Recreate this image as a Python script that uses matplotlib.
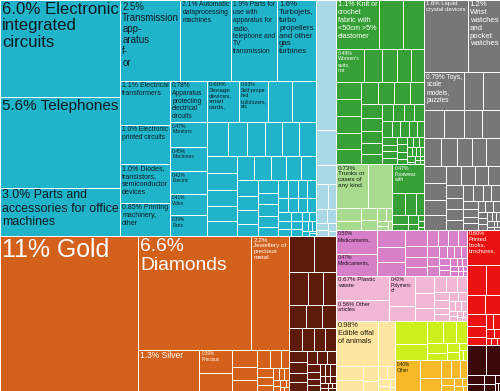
import matplotlib
matplotlib.use("Agg")
import matplotlib.pyplot as plt
from matplotlib.patches import Rectangle

plt.rcParams['font.family'] = ['Liberation Sans Narrow', 'Liberation Sans', 'DejaVu Sans']

# export shares (%) per product, grouped by community
elec_values = [6.0, 5.6, 3.0, 2.5, 2.1, 1.9, 1.6, 1.14, 1.0, 1.0, 0.86, 0.78, 0.69, 0.63,
               0.52, 0.50, 0.47, 0.45, 0.42, 0.41, 0.39, 0.36, 0.33, 0.31, 0.30, 0.29,
               0.28, 0.27, 0.26, 0.25, 0.24, 0.23, 0.22, 0.21, 0.20, 0.19, 0.18, 0.17,
               0.16, 0.15, 0.14, 0.13, 0.12, 0.12, 0.11, 0.10, 0.09, 0.09, 0.08, 0.08,
               0.07, 0.07, 0.07, 0.06, 0.06, 0.05, 0.05, 0.05, 0.04, 0.04, 0.03, 0.03,
               0.03, 0.02, 0.02, 0.02, 0.01, 0.01]
elec_labels = ["6.0% Electronic\nintegrated\ncircuits",
               "5.6% Telephones",
               "3.0% Parts and\naccessories for office\nmachines",
               "2.5%\nTransmission\napp-\naratus\nf-\nor",
               "2.1% Automatic\ndataprocessing\nmachines",
               "1.9% Parts for\nuse with\napparatus for\nradio,\ntelephone and\nTV\ntransmission",
               "1.6%\nTurbojets,\nturbo\npropellers\nand other\ngas\nturbines",
               "1.1% Electrical\ntransformers",
               "1.0% Electronic\nprinted circuits",
               "1.0% Diodes,\ntransistors,\nsemiconductor\ndevices",
               "0.85% Printing\nmachinery,\nother",
               "0.78%\nApparatus\nprotecting\nelectrical\ncircuits",
               "0.69%\nStorage\ndevices,\nsmart\ncards,",
               "0.63%\nSelf-prope\nlled\nbulldozers,\netc",
               "", "",
               "0.47%\nMonitors", "0.45%\nMachines", "0.42%\nElectric",
               "0.41%\nVideo", "0.39%\nParts"]

mach_values = [1.33, 0.36, 0.20, 0.15, 0.10, 0.08, 0.06, 0.05, 0.04, 0.03, 0.02]
mach_labels = []

precious_values = [11.0, 6.6, 2.2, 1.3, 0.39, 0.30, 0.22, 0.18, 0.14, 0.12, 0.10, 0.08,
                   0.07, 0.06, 0.05, 0.04, 0.03, 0.03, 0.02, 0.02, 0.02, 0.01, 0.01, 0.01]
precious_labels = ["11% Gold", "6.6%\nDiamonds", "2.2%\nJewellery of\nprecious\nmetal",
                   "1.3% Silver", "0.39%\nPrecious"]

metals_values = [0.45, 0.40, 0.33, 0.26, 0.22, 0.20, 0.18, 0.16, 0.15, 0.14, 0.13, 0.12,
                 0.11, 0.10, 0.09, 0.08, 0.07, 0.07, 0.06, 0.05, 0.05, 0.04, 0.04, 0.03,
                 0.03, 0.03, 0.02, 0.02, 0.02, 0.02, 0.01, 0.01, 0.01, 0.01]
metals_labels = []

textiles_values = [1.1, 0.60, 0.55, 0.49, 0.30, 0.25, 0.24, 0.23, 0.22, 0.22, 0.22, 0.21,
                   0.20, 0.19, 0.18, 0.17, 0.16, 0.15, 0.14, 0.13, 0.12, 0.11, 0.10, 0.10,
                   0.09, 0.09, 0.08, 0.07, 0.07, 0.07, 0.06, 0.06, 0.05, 0.05, 0.05, 0.04,
                   0.04, 0.04, 0.03, 0.03, 0.03, 0.03, 0.02, 0.02, 0.02, 0.02, 0.02, 0.01,
                   0.01, 0.01, 0.01, 0.01]
textiles_labels = ["1.1% Knit or\ncrochet\nfabric with\n<50cm >5%\nelastomer", "", "",
                   "0.49%\nWomen's\nsuits,\nnot"]

leather_values = [0.73, 0.55, 0.17, 0.12, 0.10, 0.08, 0.06, 0.04, 0.03, 0.02, 0.02]
leather_labels = ["0.73%\nTrunks or\ncases of\nany kind"]

footwear_values = [0.47, 0.15, 0.12, 0.10, 0.07, 0.05, 0.04, 0.03, 0.02, 0.02, 0.01]
footwear_labels = ["0.47%\nFootwear,\nwith"]

misc_values = [1.6, 1.2, 0.79, 0.36, 0.34, 0.28, 0.27, 0.26, 0.25, 0.24, 0.23, 0.22, 0.21,
               0.20, 0.19, 0.18, 0.17, 0.16, 0.15, 0.14, 0.13, 0.12, 0.11, 0.10, 0.10,
               0.09, 0.08, 0.08, 0.07, 0.07, 0.06, 0.06, 0.05, 0.05, 0.04, 0.04, 0.04,
               0.03, 0.03, 0.03, 0.02, 0.02, 0.02, 0.02, 0.01, 0.01, 0.01, 0.01]
misc_labels = ["1.6% Liquid\ncrystal devices", "1.2%\nWrist\nwatches\nand\npocket\nwatches",
               "0.79% Toys,\nscale\nmodels,\npuzzles"]

chem_values = [0.50, 0.47, 0.24, 0.22, 0.20, 0.18, 0.12, 0.11, 0.10, 0.09, 0.08, 0.08,
               0.07, 0.07, 0.06, 0.06, 0.05, 0.05, 0.04, 0.04, 0.04, 0.03, 0.03, 0.03,
               0.02, 0.02, 0.02, 0.02, 0.01, 0.01, 0.01, 0.01]
chem_labels = ["0.50%\nMedicaments,", "0.47%\nMedicaments,"]

plastics_values = [0.67, 0.56, 0.42, 0.20, 0.17, 0.14, 0.12, 0.10, 0.09, 0.08, 0.07, 0.06,
                   0.05, 0.05, 0.04, 0.04, 0.03, 0.03, 0.03, 0.02, 0.02, 0.02, 0.01, 0.01,
                   0.01]
plastics_labels = ["0.67% Plastic\nwaste", "0.56% Other\narticles", "0.42%\nPolymers\nof"]

animal_values = [0.98, 0.40, 0.20, 0.15, 0.12, 0.08, 0.06, 0.05, 0.04, 0.03, 0.02, 0.01]
animal_labels = ["0.98%\nEdible offal\nof animals"]

veg_values = [0.38, 0.28, 0.18, 0.15, 0.12, 0.10, 0.08, 0.06, 0.05, 0.03, 0.02, 0.02]
veg_labels = []

food_values = [0.40, 0.18, 0.14, 0.10, 0.08, 0.06, 0.05, 0.04, 0.03, 0.02, 0.02, 0.01]
food_labels = ["0.40%\nOther"]

paper_values = [0.60, 0.30, 0.22, 0.18, 0.14, 0.12, 0.10, 0.08, 0.06, 0.05, 0.04, 0.03,
                0.02, 0.02, 0.01]
paper_labels = ["0.60%\nPrinted\nbooks,\nbrochures,"]

stone_values = [0.30, 0.22, 0.08, 0.06, 0.05, 0.04, 0.02, 0.01, 0.01]
stone_labels = []

# community -> (values, labels, fill, text colour)
groups = {
    'elec': (elec_values, elec_labels, '#20B4CB', '#0d1a1f'),
    'mach': (mach_values, mach_labels, '#A9D9E4', '#0d1a1f'),
    'precious': (precious_values, precious_labels, '#D3601B', 'white'),
    'metals': (metals_values, metals_labels, '#5E1B0C', 'white'),
    'textiles': (textiles_values, textiles_labels, '#36A036', 'white'),
    'leather': (leather_values, leather_labels, '#A8DB8E', '#102010'),
    'footwear': (footwear_values, footwear_labels, '#36A036', 'white'),
    'misc': (misc_values, misc_labels, '#777777', 'white'),
    'chem': (chem_values, chem_labels, '#D780C9', '#201020'),
    'plastics': (plastics_values, plastics_labels, '#F3B7D6', '#201020'),
    'animal': (animal_values, animal_labels, '#FFE6A0', '#202010'),
    'veg': (veg_values, veg_labels, '#CDF01C', '#202010'),
    'food': (food_values, food_labels, '#F6B927', '#202010'),
    'paper': (paper_values, paper_labels, '#EC1212', 'white'),
    'stone': (stone_values, stone_labels, '#3B0909', 'white'),
}

# how the communities are arranged (h = side by side, v = stacked)
LAYOUT = ('h', [
    ('v', [('h', ['elec', 'mach']), ('h', ['precious', 'metals'])]),
    ('v', [
        ('h', [('v', ['textiles', ('h', ['leather', 'footwear'])]), 'misc']),
        ('h', [('v', ['chem', 'plastics', ('h', ['animal', ('v', ['veg', 'food'])])]),
               ('v', ['paper', 'stone'])]),
    ]),
])

W, H = 500, 391
PHI = 0.5 * (1 + 5 ** 0.5)


def worst(row, u):
    s = sum(row)
    if s == 0:
        return float('inf')
    s2, u2 = s * s, u * u
    return max(u2 * max(row) * PHI / s2, s2 / (u2 * min(row) * PHI))


def position(row, u, rect, flush, out):
    x, y, w, h = rect
    v = sum(row) / u if u else 0
    if u == w:
        if flush or v > h:
            v = h
        for a in row:
            dw = a / v if v else 0
            out.append((x, y, dw, v))
            x += dw
        rect[1] += v
        rect[3] -= v
    else:
        if flush or v > w:
            v = w
        for a in row:
            dh = a / v if v else 0
            out.append((x, y, v, dh))
            y += dh
        rect[0] += v
        rect[2] -= v


def squarify(values, x, y, w, h):
    k = w * h / sum(values)
    areas = [v * k for v in values]
    rect = [x, y, w, h]
    out, row = [], []
    best = float('inf')
    u = min(w, h)
    i = 0
    while i < len(areas):
        row.append(areas[i])
        score = worst(row, u)
        if score <= best:
            best = score
            i += 1
        else:
            row.pop()
            position(row, u, rect, False, out)
            u = min(rect[2], rect[3])
            row, best = [], float('inf')
    if row:
        position(row, u, rect, True, out)
    return out


def total(node):
    if isinstance(node, str):
        return sum(groups[node][0])
    return sum(total(c) for c in node[1])


fig = plt.figure(figsize=(5, 3.91), dpi=100)
ax = fig.add_axes([0, 0, 1, 1])
ax.set_xlim(0, W)
ax.set_ylim(H, 0)
ax.axis('off')
renderer = fig.canvas.get_renderer()


def put_label(lab, rx, ry, rw, rh, tc, patch):
    lines = lab.split('\n')
    px = min(0.17 * (rw * rh) ** 0.5, (rh - 2) / (len(lines) * 1.18))
    t = ax.text(rx + 2, ry + 1.5, lab, fontsize=px * 0.72, color=tc,
                ha='left', va='top', linespacing=1.15)
    bb = t.get_window_extent(renderer)
    f = min(1.0, (rw - 3.5) / bb.width, (rh - 2.5) / bb.height)
    t.set_fontsize(px * 0.72 * f)
    t.set_clip_path(patch)


def draw_group(name, x, y, w, h):
    values, labels, fc, tc = groups[name]
    labs = list(labels) + [""] * (len(values) - len(labels))
    items = sorted(zip(values, labs), key=lambda t: -t[0])
    rects = squarify([v for v, _ in items], x, y, w, h)
    for (v, lab), (rx, ry, rw, rh) in zip(items, rects):
        p = Rectangle((rx, ry), rw, rh, facecolor=fc, edgecolor='white', linewidth=0.7)
        ax.add_patch(p)
        if lab:
            put_label(lab, rx, ry, rw, rh, tc, p)


def slice_layout(node, x, y, w, h):
    if isinstance(node, str):
        draw_group(node, x, y, w, h)
        return
    d, kids = node
    t = total(node)
    for kid in kids:
        f = total(kid) / t
        if d == 'h':
            slice_layout(kid, x, y, w * f, h)
            x += w * f
        else:
            slice_layout(kid, x, y, w, h * f)
            y += h * f


slice_layout(LAYOUT, 0, 0, W, H)
fig.savefig('out.png', dpi=100, facecolor='white')
